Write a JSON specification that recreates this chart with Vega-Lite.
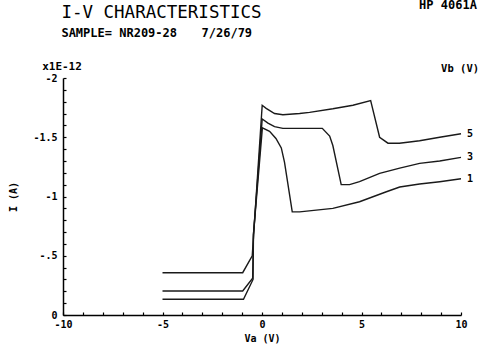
{
  "$schema": "https://vega.github.io/schema/vega-lite/v6.json",
  "width": 398,
  "height": 237,
  "autosize": {"type": "none"},
  "padding": {"left": 63, "top": 78, "right": 18, "bottom": 30},
  "background": "white",
  "config": {
    "view": {"stroke": null},
    "font": "DejaVu Sans Mono",
    "axis": {
      "grid": false,
      "domainColor": "black",
      "domainWidth": 1.5,
      "tickColor": "black",
      "tickSize": -3,
      "tickWidth": 1.2,
      "labelFlush": false,
      "labelOverlap": false,
      "labelFont": "DejaVu Sans Mono",
      "labelFontSize": 10,
      "labelFontWeight": "bold",
      "labelColor": "black",
      "titleFont": "DejaVu Sans Mono",
      "titleFontSize": 10,
      "titleFontWeight": "bold",
      "titleColor": "black"
    },
    "axisX": {
      "tickCount": 20,
      "labelExpr": "abs(datum.value % 5) < 0.01 ? (datum.value < 0 ? '-' + abs(datum.value) : '' + datum.value) : ''",
      "labelPadding": 7,
      "titlePadding": 4
    },
    "axisY": {
      "tickCount": 20,
      "labelExpr": "abs(datum.value+2)<0.01 ? '-2' : abs(datum.value+1.5)<0.01 ? '-1.5' : abs(datum.value+1)<0.01 ? '-1' : abs(datum.value+0.5)<0.01 ? '-.5' : abs(datum.value)<0.01 ? '0' : ''",
      "labelPadding": 9,
      "titlePadding": 14
    }
  },
  "datasets": {
    "curves": [
      {"Vb": 5, "Va": -5, "I": -0.357},
      {"Vb": 5, "Va": -0.97, "I": -0.357},
      {"Vb": 5, "Va": -0.49, "I": -0.5},
      {"Vb": 5, "Va": 0.01, "I": -1.77},
      {"Vb": 5, "Va": 0.21, "I": -1.744},
      {"Vb": 5, "Va": 0.63, "I": -1.7},
      {"Vb": 5, "Va": 1.05, "I": -1.69},
      {"Vb": 5, "Va": 1.89, "I": -1.7},
      {"Vb": 5, "Va": 2.39, "I": -1.71},
      {"Vb": 5, "Va": 3.56, "I": -1.74},
      {"Vb": 5, "Va": 4.57, "I": -1.77},
      {"Vb": 5, "Va": 5.46, "I": -1.81},
      {"Vb": 5, "Va": 5.91, "I": -1.5},
      {"Vb": 5, "Va": 6.33, "I": -1.45},
      {"Vb": 5, "Va": 6.9, "I": -1.45},
      {"Vb": 5, "Va": 7.42, "I": -1.46},
      {"Vb": 5, "Va": 7.92, "I": -1.47},
      {"Vb": 5, "Va": 8.93, "I": -1.5},
      {"Vb": 5, "Va": 10, "I": -1.53},
      {"Vb": 3, "Va": -5, "I": -0.203},
      {"Vb": 3, "Va": -0.97, "I": -0.203},
      {"Vb": 3, "Va": -0.47, "I": -0.31},
      {"Vb": 3, "Va": -0.43, "I": -0.68},
      {"Vb": 3, "Va": 0.01, "I": -1.654},
      {"Vb": 3, "Va": 0.3, "I": -1.62},
      {"Vb": 3, "Va": 0.63, "I": -1.59},
      {"Vb": 3, "Va": 1.05, "I": -1.575},
      {"Vb": 3, "Va": 2.39, "I": -1.575},
      {"Vb": 3, "Va": 3.03, "I": -1.575},
      {"Vb": 3, "Va": 3.4, "I": -1.51},
      {"Vb": 3, "Va": 3.56, "I": -1.43},
      {"Vb": 3, "Va": 3.98, "I": -1.1},
      {"Vb": 3, "Va": 4.4, "I": -1.1},
      {"Vb": 3, "Va": 4.9, "I": -1.125},
      {"Vb": 3, "Va": 5.91, "I": -1.195},
      {"Vb": 3, "Va": 6.92, "I": -1.24},
      {"Vb": 3, "Va": 7.92, "I": -1.28},
      {"Vb": 3, "Va": 8.93, "I": -1.3},
      {"Vb": 3, "Va": 10, "I": -1.33},
      {"Vb": 1, "Va": -5, "I": -0.1325},
      {"Vb": 1, "Va": -0.93, "I": -0.1325},
      {"Vb": 1, "Va": -0.45, "I": -0.3},
      {"Vb": 1, "Va": -0.43, "I": -0.68},
      {"Vb": 1, "Va": 0.02, "I": -1.58},
      {"Vb": 1, "Va": 0.38, "I": -1.55},
      {"Vb": 1, "Va": 0.7, "I": -1.49},
      {"Vb": 1, "Va": 0.97, "I": -1.41},
      {"Vb": 1, "Va": 1.13, "I": -1.29},
      {"Vb": 1, "Va": 1.52, "I": -0.87},
      {"Vb": 1, "Va": 1.89, "I": -0.87},
      {"Vb": 1, "Va": 3.56, "I": -0.9},
      {"Vb": 1, "Va": 4.9, "I": -0.956},
      {"Vb": 1, "Va": 6.25, "I": -1.04},
      {"Vb": 1, "Va": 6.92, "I": -1.08},
      {"Vb": 1, "Va": 7.92, "I": -1.105},
      {"Vb": 1, "Va": 8.93, "I": -1.125},
      {"Vb": 1, "Va": 10, "I": -1.15}
    ]
  },
  "layer": [
    {
      "data": {"name": "curves"},
      "mark": {"type": "line", "color": "#1a1a1a", "strokeWidth": 1.4, "clip": false},
      "encoding": {
        "x": {
          "field": "Va",
          "type": "quantitative",
          "scale": {"domain": [-10, 10], "nice": false, "zero": false},
          "axis": {"title": "Va (V)"}
        },
        "y": {
          "field": "I",
          "type": "quantitative",
          "scale": {"domain": [0, -2], "nice": false, "zero": false},
          "axis": {"title": "I (A)"}
        },
        "detail": {"field": "Vb"}
      }
    },
    {
      "data": {"name": "curves"},
      "transform": [{"filter": "datum.Va == 10"}],
      "mark": {"type": "text", "align": "left", "baseline": "middle", "dx": 6, "font": "DejaVu Sans Mono", "fontSize": 10, "fontWeight": "bold", "color": "black"},
      "encoding": {
        "x": {"field": "Va", "type": "quantitative"},
        "y": {"field": "I", "type": "quantitative"},
        "text": {"field": "Vb"}
      }
    },
    {
      "data": {"values": [{"label": "I-V CHARACTERISTICS"}]},
      "mark": {"type": "text", "align": "left", "baseline": "alphabetic", "font": "DejaVu Sans Mono", "fontSize": 17.5, "fontWeight": "normal", "color": "black"},
      "encoding": {
        "x": {"datum": -10.08, "type": "quantitative"},
        "y": {"datum": -2.506, "type": "quantitative"},
        "text": {"field": "label"}
      }
    },
    {
      "data": {"values": [{"label": "SAMPLE= NR209-28"}]},
      "mark": {"type": "text", "align": "left", "baseline": "alphabetic", "font": "DejaVu Sans Mono", "fontSize": 12, "fontWeight": "bold", "color": "black"},
      "encoding": {
        "x": {"datum": -10.08, "type": "quantitative"},
        "y": {"datum": -2.346, "type": "quantitative"},
        "text": {"field": "label"}
      }
    },
    {
      "data": {"values": [{"label": "7/26/79"}]},
      "mark": {"type": "text", "align": "left", "baseline": "alphabetic", "font": "DejaVu Sans Mono", "fontSize": 12, "fontWeight": "bold", "color": "black"},
      "encoding": {
        "x": {"datum": -3.04, "type": "quantitative"},
        "y": {"datum": -2.346, "type": "quantitative"},
        "text": {"field": "label"}
      }
    },
    {
      "data": {"values": [{"label": "x1E-12"}]},
      "mark": {"type": "text", "align": "center", "baseline": "middle", "font": "DejaVu Sans Mono", "fontSize": 11, "fontWeight": "bold", "color": "black"},
      "encoding": {
        "x": {"datum": -10.05, "type": "quantitative"},
        "y": {"datum": -2.09, "type": "quantitative"},
        "text": {"field": "label"}
      }
    },
    {
      "data": {"values": [{"label": "Vb (V)"}]},
      "mark": {"type": "text", "align": "left", "baseline": "middle", "font": "DejaVu Sans Mono", "fontSize": 10.5, "fontWeight": "bold", "color": "black"},
      "encoding": {
        "x": {"datum": 9, "type": "quantitative"},
        "y": {"datum": -2.08, "type": "quantitative"},
        "text": {"field": "label"}
      }
    },
    {
      "data": {"values": [{"label": "HP 4061A"}]},
      "mark": {"type": "text", "align": "right", "baseline": "alphabetic", "font": "DejaVu Sans Mono", "fontSize": 12, "fontWeight": "bold", "color": "black"},
      "encoding": {
        "x": {"datum": 10.8, "type": "quantitative"},
        "y": {"datum": -2.58, "type": "quantitative"},
        "text": {"field": "label"}
      }
    }
  ]
}
